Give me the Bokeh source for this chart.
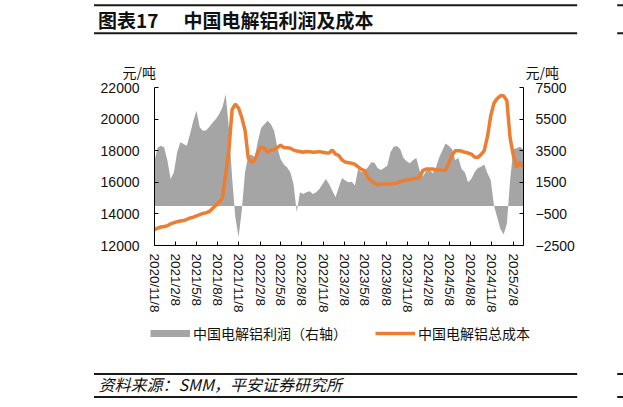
import pandas as pd
from bokeh.plotting import figure
from bokeh.layouts import column
from bokeh.models import (Range1d, LinearAxis, FixedTicker, Legend, LegendItem,
                          ColumnDataSource)
from bokeh.embed import file_html
from bokeh.resources import INLINE
from bokeh.core.properties import value

# ---------------- data ----------------
START = "2020-11-08"
DATES = pd.date_range(START, periods=115, freq="14D")

COST = [13000, 13100, 13170, 13200, 13250, 13370, 13450, 13500, 13550, 13580,
        13650, 13740, 13800, 13880, 13950, 14030, 14080, 14150, 14350, 14550,
        14750, 15000, 16500, 18000, 20600, 20950, 20700, 20100, 19300, 17550,
        17250, 17400, 17900, 18250, 18150, 17900, 18050, 18070, 18200, 18350,
        18200, 18180, 18150, 18040, 17980, 17950, 17900, 17950, 17930, 17900,
        17920, 17940, 17900, 17870, 17850, 18040, 17780, 17700, 17420, 17280,
        17240, 17200, 17140, 16980, 16820, 16740, 16320, 16100, 15940, 15850,
        15880, 15890, 15890, 15900, 15920, 15950, 16050, 16110, 16150, 16170,
        16220, 16260, 16300, 16740, 16840, 16840, 16840, 16800, 16780, 16760,
        16740, 17200, 17700, 18000, 18000, 17980, 17900, 17850, 17780, 17600,
        17560, 17750, 18000, 18900, 20200, 21000, 21300, 21470, 21470, 21160,
        18800, 17700, 16950, 17300, 16950]

PROFIT = [2870, 3710, 3820, 3710, 2870, 1710, 2130, 3400, 4030, 3920,
          3820, 4550, 5400, 6030, 4970, 4760, 4800, 5020, 5290, 5500,
          5820, 6240, 7080, 4970, 1820, -710, -1970, -290, 2130, 3180,
          3250, 3080, 4130, 4930, 5180, 5400, 5180, 4760, 3710, 2970,
          2620, 2450, 2130, 1400, -400, 870, 760, 870, 930, 760,
          870, 1080, 1400, 1710, 1400, 970, 550, 1180, 1770, 1610,
          1500, 1540, 1290, 2340, 2130, 2240, 2450, 2760, 2760, 2410,
          2280, 2410, 2550, 3400, 3750, 3800, 3610, 3040, 2830, 2700,
          2910, 3040, 2240, 1860, 2200, 2340, 2070, 2410, 3040, 3500,
          3960, 3820, 3610, 2910, 3040, 2340, 2130, 1500, 1710, 2130,
          2410, 2490, 2620, 2070, 1650, 30, -710, -1450, -1800, -1130,
          1610, 3610, 3650, 3750, 3610]

TICK_DATES = ["2020-11-08", "2021-02-08", "2021-05-08", "2021-08-08", "2021-11-08",
              "2022-02-08", "2022-05-08", "2022-08-08", "2022-11-08", "2023-02-08",
              "2023-05-08", "2023-08-08", "2023-11-08", "2024-02-08", "2024-05-08",
              "2024-08-08", "2024-11-08", "2025-02-08"]
TICK_LABELS = ["2020/11/8", "2021/2/8", "2021/5/8", "2021/8/8", "2021/11/8",
               "2022/2/8", "2022/5/8", "2022/8/8", "2022/11/8", "2023/2/8",
               "2023/5/8", "2023/8/8", "2023/11/8", "2024/2/8", "2024/5/8",
               "2024/8/8", "2024/11/8", "2025/2/8"]
LEFT_TICKS = [12000, 14000, 16000, 18000, 20000, 22000]
RIGHT_TICKS = [-2500, -500, 1500, 3500, 5500, 7500]

TITLE_NO = "图表17"
TITLE = "中国电解铝利润及成本"
UNIT = "元/吨"
SERIES_PROFIT = "中国电解铝利润（右轴）"
SERIES_COST = "中国电解铝总成本"
SOURCE = "资料来源：SMM，平安证券研究所"

# ---------------- styling ----------------
W = 623
ORANGE = "#ED7D31"
GRAY = "#A5A5A5"
INK = "#111111"
RULE = "#1a1a1a"
NUM_FONT = "Liberation Sans"
CJK_FONT = "Noto Sans CJK SC"

H_TOP, H_MAIN, H_BOT = 80, 242, 85
FRAME_TOP = 87
FRAME_H = 158
NAN = float("nan")


def blank(height, y_top):
    f = figure(width=W, height=height, output_backend="svg", toolbar_location=None,
               x_range=Range1d(0, W), y_range=Range1d(y_top + height, y_top),
               min_border=0, x_axis_location=None, y_axis_location=None,
               frame_align=False)
    f.outline_line_color = None
    f.xgrid.visible = False
    f.ygrid.visible = False
    return f


# ---------------- header ----------------
top = blank(H_TOP, 0)
top.segment(x0=[93.5, 93.5, 616.7, 616.7], x1=[576.7, 576.7, 623, 623],
            y0=[4.8, 32.7, 4.8, 32.7], y1=[4.8, 32.7, 4.8, 32.7],
            line_color=RULE, line_width=2)
top.text(x=[97.5], y=[19], text=[TITLE_NO], text_font=value(CJK_FONT),
         text_font_size="19px", text_font_style="bold", text_color=INK,
         text_baseline="middle", text_align="left")
top.text(x=[183], y=[19], text=[TITLE], text_font=value(CJK_FONT),
         text_font_size="19px", text_font_style="bold", text_color=INK,
         text_baseline="middle", text_align="left")
top.text(x=[122, 525], y=[71, 71], text=[UNIT, UNIT], text_font=value(CJK_FONT),
         text_font_size="14px", text_color=INK, text_baseline="middle",
         text_align="left")

# ---------------- main chart ----------------
def ms(d):
    return pd.Timestamp(d).value // 10**6

x_start = ms(DATES[0])
x_end = ms(DATES[-1]) + 2 * 86400000

p = figure(width=W, height=H_MAIN, x_axis_type="datetime", output_backend="svg",
           toolbar_location=None, frame_align=False,
           x_range=Range1d(x_start, x_end), y_range=Range1d(12000, 22000),
           min_border_left=154, min_border_right=100,
           min_border_top=FRAME_TOP - H_TOP,
           min_border_bottom=H_MAIN - (FRAME_TOP - H_TOP) - FRAME_H)
p.extra_y_ranges = {"profit": Range1d(-2500, 7500)}
p.outline_line_color = None
p.xgrid.visible = False
p.ygrid.visible = False

src = ColumnDataSource(dict(date=DATES, cost=COST, profit=PROFIT))
area = p.varea(x="date", y1=0, y2="profit", source=src, y_range_name="profit",
               fill_color=GRAY)
line = p.line(x="date", y="cost", source=src, line_color=ORANGE, line_width=3.5)

xa = p.xaxis[0]
tick_ms = [ms(d) for d in TICK_DATES]
xa.ticker = FixedTicker(ticks=tick_ms)
xa.major_label_overrides = {t: lab for t, lab in zip(tick_ms, TICK_LABELS)}
xa.major_label_orientation = "vertical"

ya = p.yaxis[0]
ya.ticker = FixedTicker(ticks=LEFT_TICKS)

ra = LinearAxis(y_range_name="profit", ticker=FixedTicker(ticks=RIGHT_TICKS))
p.add_layout(ra, "right")

for ax in (xa, ya, ra):
    ax.axis_line_color = "#000000"
    ax.axis_line_width = 1
    ax.major_tick_line_color = "#000000"
    ax.major_tick_in = 4
    ax.major_tick_out = 0
    ax.minor_tick_line_color = None
    ax.major_label_text_font = NUM_FONT
    ax.major_label_text_color = INK
    ax.major_label_text_font_size = "14px"
xa.major_label_text_font_size = "13.5px"
xa.major_label_standoff = 8
ya.major_label_standoff = 15
ra.major_label_standoff = 12

# ---------------- footer (legend + source) ----------------
bot = blank(H_BOT, H_TOP + H_MAIN)
# legend keys: same styles as the chart's series (no visible data of their own)
k_profit = bot.line(x=[NAN], y=[NAN], line_color=GRAY, line_width=7)
k_cost = bot.line(x=[NAN], y=[NAN], line_color=ORANGE, line_width=3.5)
legend = Legend(items=[LegendItem(label=value(SERIES_PROFIT), renderers=[k_profit]),
                       LegendItem(label=value(SERIES_COST), renderers=[k_cost])],
                orientation="horizontal", location=(150, 64),
                glyph_width=40, glyph_height=16, label_height=16,
                label_standoff=3, spacing=28,
                padding=0, margin=0, border_line_color=None,
                background_fill_alpha=0,
                label_text_font=CJK_FONT, label_text_font_size="14px",
                label_text_color=INK)
bot.add_layout(legend, "center")

bot.segment(x0=[93.5, 93.5, 616.7, 616.7], x1=[576.7, 576.7, 623, 623],
            y0=[373.5, 396.5, 373.5, 396.5], y1=[373.5, 396.5, 373.5, 396.5],
            line_color=RULE, line_width=2)
bot.text(x=[98], y=[383], text=[SOURCE], text_font=value(CJK_FONT),
         text_font_size="16px", text_font_style="italic", text_color=INK,
         text_baseline="middle", text_align="left")

layout = column(top, p, bot, spacing=0)
open("out.html", "w").write(file_html(layout, INLINE))
